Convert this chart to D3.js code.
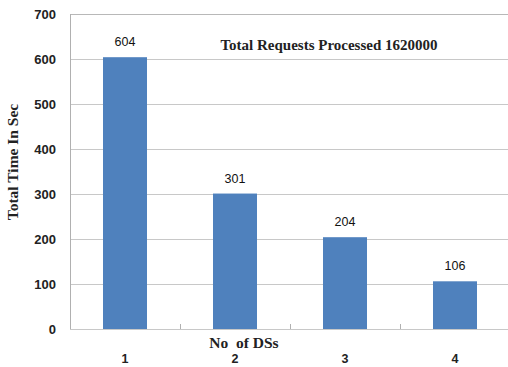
<!DOCTYPE html>
<html>
<head>
<meta charset="utf-8">
<script src="https://cdn.jsdelivr.net/npm/d3@7"></script>
<style>
  body { margin: 0; background: #fff; }
  svg { display: block; }
</style>
</head>
<body>
<svg id="chart" width="508" height="367"></svg>
<script>
// Data: total time (seconds) by number of DSs
const categories = ["1", "2", "3", "4"];
const times = [604, 301, 204, 106];
const yTicks = [0, 100, 200, 300, 400, 500, 600, 700];
const titleText = "Total Requests Processed 1620000";
const xTitle = "No  of DSs";
const yTitle = "Total Time In Sec";

const svg = d3.select("#chart");
const margin = { left: 70, right: -2, top: 14, bottom: 38 };
const W = 508, H = 367;

const x = d3.scaleBand()
  .domain(categories)
  .range([margin.left, W - margin.right])
  .paddingInner(0.6)
  .paddingOuter(0.3);

const y = d3.scaleLinear()
  .domain([0, 700])
  .range([H - margin.bottom, margin.top]);

const sansFont = "'Liberation Sans', Arial, sans-serif";
const serifFont = "'Liberation Serif', 'Times New Roman', serif";

// Horizontal gridlines
svg.append("g")
  .selectAll("line")
  .data(yTicks)
  .join("line")
  .attr("x1", margin.left)
  .attr("x2", W - margin.right)
  .attr("y1", d => y(d) + 0.5)
  .attr("y2", d => y(d) + 0.5)
  .attr("stroke", d => d === 700 ? "#b8b8b8" : "#c8c8c8")
  .attr("stroke-width", 1);

// Left axis line
svg.append("line")
  .attr("x1", margin.left + 0.5).attr("x2", margin.left + 0.5)
  .attr("y1", y(700)).attr("y2", y(0))
  .attr("stroke", "#b0b0b0");

// Y tick labels
svg.append("g")
  .selectAll("text")
  .data(yTicks)
  .join("text")
  .attr("x", 56)
  .attr("y", d => y(d))
  .attr("dy", "0.35em")
  .attr("text-anchor", "end")
  .attr("font-family", sansFont)
  .attr("font-size", 13)
  .attr("font-weight", "bold")
  .attr("fill", "#222")
  .text(d => d);

// Bars
svg.append("g")
  .selectAll("rect")
  .data(times)
  .join("rect")
  .attr("x", (d, i) => x(categories[i]))
  .attr("width", x.bandwidth())
  .attr("y", d => y(d))
  .attr("height", d => y(0) - y(d))
  .attr("fill", "#4f81bd");

// Category separator ticks along the baseline
const seps = categories.slice(1).map(c => x(c) - x.step() * x.paddingInner() / 2);
svg.append("g")
  .selectAll("line")
  .data(seps)
  .join("line")
  .attr("x1", d => Math.round(d) + 0.5)
  .attr("x2", d => Math.round(d) + 0.5)
  .attr("y1", y(0) - 5)
  .attr("y2", y(0))
  .attr("stroke", "#b0b0b0");

// Value labels
svg.append("g")
  .selectAll("text")
  .data(times)
  .join("text")
  .attr("x", (d, i) => x(categories[i]) + x.bandwidth() / 2)
  .attr("y", d => y(d) - 11)
  .attr("text-anchor", "middle")
  .attr("font-family", sansFont)
  .attr("font-size", 12.5)
  .attr("fill", "#111")
  .text(d => d);

// X category labels
svg.append("g")
  .selectAll("text")
  .data(categories)
  .join("text")
  .attr("x", d => x(d) + x.bandwidth() / 2)
  .attr("y", 363)
  .attr("text-anchor", "middle")
  .attr("font-family", sansFont)
  .attr("font-size", 12.5)
  .attr("font-weight", "bold")
  .attr("fill", "#222")
  .text(d => d);

// X axis title
svg.append("text")
  .attr("x", 244)
  .attr("y", 348)
  .attr("text-anchor", "middle")
  .attr("font-family", serifFont)
  .attr("font-size", 15.5)
  .attr("font-weight", "bold")
  .attr("fill", "#222")
  .attr("xml:space", "preserve")
  .style("white-space", "pre")
  .text(xTitle);

// Y axis title
svg.append("text")
  .attr("transform", "translate(18,162) rotate(-90)")
  .attr("text-anchor", "middle")
  .attr("font-family", serifFont)
  .attr("font-size", 15.5)
  .attr("font-weight", "bold")
  .attr("fill", "#222")
  .text(yTitle);

// Chart annotation
svg.append("text")
  .attr("x", 329)
  .attr("y", 50)
  .attr("text-anchor", "middle")
  .attr("font-family", serifFont)
  .attr("font-size", 15)
  .attr("font-weight", "bold")
  .attr("fill", "#222")
  .text(titleText);
</script>
</body>
</html>
